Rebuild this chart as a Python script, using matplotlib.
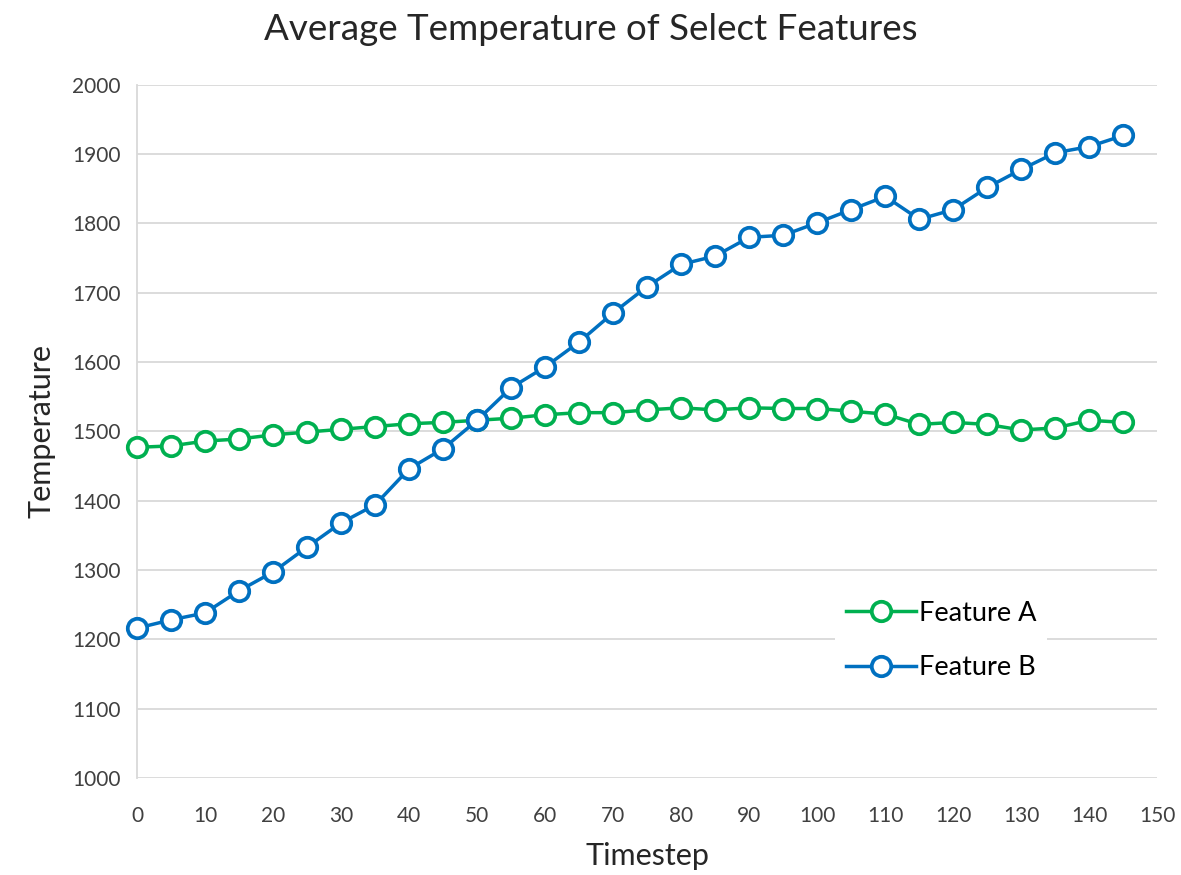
import matplotlib.pyplot as plt

plt.rcParams["font.family"] = ["Lato", "DejaVu Sans"]

timestep = list(range(0, 150, 5))
feature_a = [1477, 1479, 1486, 1489, 1495, 1499, 1503, 1507, 1511, 1513,
             1516, 1519, 1524, 1527, 1527, 1531, 1534, 1531, 1534, 1533,
             1533, 1529, 1525, 1510, 1513, 1510, 1502, 1505, 1516, 1513]
feature_b = [1216, 1228, 1238, 1270, 1297, 1333, 1368, 1394, 1446, 1475,
             1516, 1563, 1593, 1629, 1671, 1709, 1741, 1753, 1780, 1783,
             1801, 1820, 1839, 1806, 1820, 1852, 1878, 1902, 1911, 1927]

green = "#00B050"
blue = "#0070C0"

fig = plt.figure(figsize=(11.81, 8.75), dpi=100)
ax = fig.add_axes([0.116, 0.111, 0.864, 0.792])

style = dict(marker="o", markersize=14, markerfacecolor="white",
             markeredgewidth=2.7, linewidth=2.5, clip_on=False, zorder=3)
ax.plot(timestep, feature_a, color=green, label="Feature A", **style)
ax.plot(timestep, feature_b, color=blue, label="Feature B", **style)

ax.set_xlim(0, 150)
ax.set_ylim(1000, 2000)
ax.set_xticks(range(0, 151, 10))
ax.set_yticks(range(1000, 2001, 100))
ax.grid(axis="y", color="#D9D9D9", linewidth=1.3)
ax.set_axisbelow(True)
for s in ["top", "right", "bottom"]:
    ax.spines[s].set_visible(False)
ax.spines["left"].set_color("#D9D9D9")
ax.spines["left"].set_linewidth(1.3)
ax.tick_params(length=0, labelsize=15, colors="#404040")
ax.tick_params(axis="x", pad=20)
ax.tick_params(axis="y", pad=12)

ax.set_xlabel("Timestep", fontsize=22, color="#262626", labelpad=12)
ax.set_ylabel("Temperature", fontsize=22, color="#262626", labelpad=12)
fig.suptitle("Average Temperature of Select Features", fontsize=26.5,
             color="#262626", y=0.985)

leg = ax.legend(loc="lower right", bbox_to_anchor=(0.892, 0.125), frameon=True,
                fontsize=19.5, handlelength=2.6, handletextpad=0.1,
                labelspacing=1.1, borderpad=0.4, borderaxespad=0)
leg.get_frame().set_facecolor("white")
leg.get_frame().set_edgecolor("none")
leg.get_frame().set_alpha(1)

fig.savefig("out.png")
